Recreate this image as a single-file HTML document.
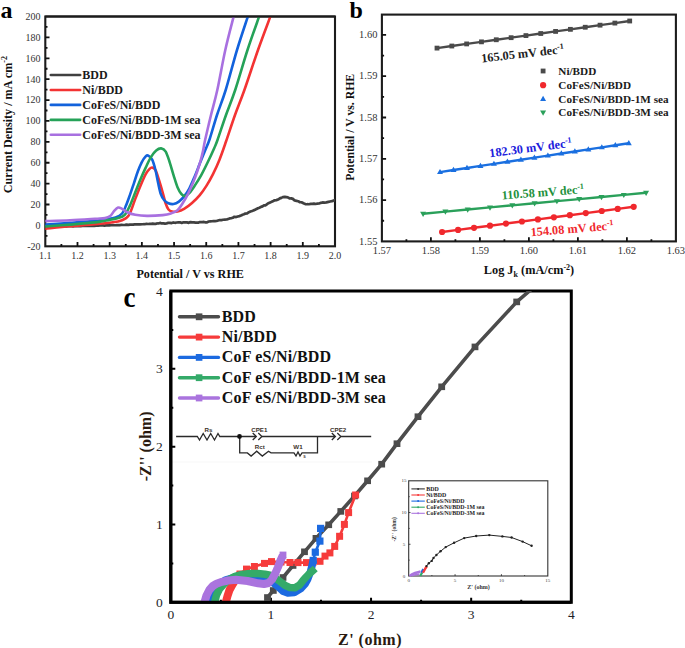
<!DOCTYPE html>
<html><head><meta charset="utf-8"><style>
html,body{margin:0;padding:0;background:#fff;overflow:hidden;width:685px;height:648px;}
svg{display:block;}
</style></head><body>
<svg width="685" height="648" viewBox="0 0 685 648">
<rect width="685" height="648" fill="#fff"/>
<text x="0.5" y="17.5" font-family="'Liberation Serif', serif" font-weight="bold" font-size="24" fill="#000">a</text>
<rect x="45.3" y="16.5" width="289.7" height="229.8" fill="none" stroke="#1c1c1c" stroke-width="2.1"/>
<path d="M61.39,246.3 v-2.2 M77.49,246.3 v-4.2 M93.58,246.3 v-2.2 M109.68,246.3 v-4.2 M125.77,246.3 v-2.2 M141.87,246.3 v-4.2 M157.96,246.3 v-2.2 M174.06,246.3 v-4.2 M190.15,246.3 v-2.2 M206.24,246.3 v-4.2 M222.34,246.3 v-2.2 M238.43,246.3 v-4.2 M254.53,246.3 v-2.2 M270.62,246.3 v-4.2 M286.72,246.3 v-2.2 M302.81,246.3 v-4.2 M318.91,246.3 v-2.2 M45.3,235.85 h2.2 M45.3,225.41 h4.2 M45.3,214.96 h2.2 M45.3,204.52 h4.2 M45.3,194.07 h2.2 M45.3,183.63 h4.2 M45.3,173.18 h2.2 M45.3,162.74 h4.2 M45.3,152.29 h2.2 M45.3,141.85 h4.2 M45.3,131.4 h2.2 M45.3,120.95 h4.2 M45.3,110.51 h2.2 M45.3,100.06 h4.2 M45.3,89.62 h2.2 M45.3,79.17 h4.2 M45.3,68.73 h2.2 M45.3,58.28 h4.2 M45.3,47.84 h2.2 M45.3,37.39 h4.2 M45.3,26.95 h2.2" stroke="#111" stroke-width="1.8" fill="none"/>
<g font-family="'Liberation Serif', serif" font-size="10" fill="#333"><text x="45.3" y="259.3" text-anchor="middle">1.1</text><text x="77.49" y="259.3" text-anchor="middle">1.2</text><text x="109.68" y="259.3" text-anchor="middle">1.3</text><text x="141.87" y="259.3" text-anchor="middle">1.4</text><text x="174.06" y="259.3" text-anchor="middle">1.5</text><text x="206.24" y="259.3" text-anchor="middle">1.6</text><text x="238.43" y="259.3" text-anchor="middle">1.7</text><text x="270.62" y="259.3" text-anchor="middle">1.8</text><text x="302.81" y="259.3" text-anchor="middle">1.9</text><text x="335" y="259.3" text-anchor="middle">2.0</text><text x="40.5" y="249.7" text-anchor="end">-20</text><text x="40.5" y="228.81" text-anchor="end">0</text><text x="40.5" y="207.92" text-anchor="end">20</text><text x="40.5" y="187.03" text-anchor="end">40</text><text x="40.5" y="166.14" text-anchor="end">60</text><text x="40.5" y="145.25" text-anchor="end">80</text><text x="40.5" y="124.35" text-anchor="end">100</text><text x="40.5" y="103.46" text-anchor="end">120</text><text x="40.5" y="82.57" text-anchor="end">140</text><text x="40.5" y="61.68" text-anchor="end">160</text><text x="40.5" y="40.79" text-anchor="end">180</text><text x="40.5" y="19.9" text-anchor="end">200</text></g>
<text x="190.2" y="278.2" text-anchor="middle" font-family="'Liberation Serif', serif" font-weight="bold" font-size="12.15" fill="#111">Potential / V vs RHE</text>
<text transform="translate(11.8,124.6) rotate(-90)" text-anchor="middle" font-family="'Liberation Serif', serif" font-weight="bold" font-size="12.15" fill="#111">Current Density / mA cm<tspan font-size="8" dy="-4.5">-2</tspan></text>
<line x1="50.8" y1="75" x2="80.2" y2="75" stroke="#404040" stroke-width="2.6" stroke-linecap="round"/>
<text x="82.3" y="79.2" font-family="'Liberation Serif', serif" font-weight="bold" font-size="12" fill="#1a1a1a">BDD</text>
<line x1="50.8" y1="89.95" x2="80.2" y2="89.95" stroke="#f33333" stroke-width="2.6" stroke-linecap="round"/>
<text x="82.3" y="94.15" font-family="'Liberation Serif', serif" font-weight="bold" font-size="12" fill="#1a1a1a">Ni/BDD</text>
<line x1="50.8" y1="104.9" x2="80.2" y2="104.9" stroke="#1262dc" stroke-width="2.6" stroke-linecap="round"/>
<text x="82.3" y="109.1" font-family="'Liberation Serif', serif" font-weight="bold" font-size="12" fill="#1a1a1a">CoFeS/Ni/BDD</text>
<line x1="50.8" y1="119.85" x2="80.2" y2="119.85" stroke="#25a258" stroke-width="2.6" stroke-linecap="round"/>
<text x="82.3" y="124.05" font-family="'Liberation Serif', serif" font-weight="bold" font-size="12" fill="#1a1a1a">CoFeS/Ni/BDD-1M sea</text>
<line x1="50.8" y1="134.8" x2="80.2" y2="134.8" stroke="#a870e0" stroke-width="2.6" stroke-linecap="round"/>
<text x="82.3" y="139" font-family="'Liberation Serif', serif" font-weight="bold" font-size="12" fill="#1a1a1a">CoFeS/Ni/BDD-3M sea</text>
<defs><clipPath id="ca"><rect x="45.3" y="16.5" width="289.7" height="229.8"/></clipPath></defs>
<g clip-path="url(#ca)" fill="none" stroke-linejoin="round" stroke-linecap="round">
<path d="M45.5,226.25 L46.41,226.19 L47.5,226.34 L48.74,226.17 L50.13,226.3 L51.65,226.25 L53.27,226.16 L54.99,226.29 L56.78,226.15 L58.63,226.26 L60.52,226.15 L62.43,226.14 L64.36,226.23 L66.27,226.34 L68.16,226.11 L70,226.12 L71.52,226.22 L73.04,226.29 L74.57,226.16 L76.1,226.08 L77.66,226.23 L79.22,225.93 L80.81,226.14 L82.41,225.94 L84.03,225.87 L85.68,225.83 L87.35,225.85 L89.06,225.97 L90.79,225.74 L92.56,225.81 L94.36,225.79 L96.2,225.66 L98.08,225.67 L100,225.47 L101.43,225.43 L102.92,225.43 L104.46,225.53 L106.05,225.41 L107.68,225.32 L109.34,225.36 L111.04,225.26 L112.76,225.17 L114.49,225.26 L116.24,225.18 L117.99,224.98 L119.75,225.03 L121.5,224.95 L123.24,225 L124.96,224.9 L126.66,224.71 L128.33,224.86 L129.97,224.55 L131.57,224.58 L133.12,224.63 L134.62,224.39 L136.07,224.44 L137.45,224.26 L138.76,224.4 L140,224.38 L142.37,224.23 L144.49,224.22 L146.41,223.96 L148.15,223.99 L149.75,223.87 L151.25,223.83 L152.68,223.63 L154.07,223.9 L155.47,223.92 L156.9,223.42 L158.4,223.52 L160,222.9 L161.67,223.42 L163.33,223.31 L165,223.56 L166.67,223.36 L168.33,222.82 L170,222.87 L171.67,223.07 L173.33,222.45 L175,222.8 L176.67,222.49 L178.33,222.4 L180,222.3 L181.69,222.9 L183.43,222.28 L185.19,222.35 L186.96,222.44 L188.74,222.83 L190.5,222.08 L192.23,222.37 L193.93,222.42 L195.56,222.68 L197.13,222.58 L198.61,222.58 L200,222 L202.11,222.05 L203.93,221.94 L205.56,222.35 L207.09,222.34 L208.61,221.52 L210.21,221.4 L212,221.26 L213.49,221.08 L215.01,221.12 L216.55,221.01 L218.13,220.49 L219.74,220.01 L221.4,220.1 L223.11,219.74 L224.88,219.56 L226.7,219.51 L228.13,218.94 L229.64,218.42 L231.2,218.12 L232.81,217.76 L234.45,216.77 L236.09,217.08 L237.74,216.51 L239.37,216.13 L240.96,215.58 L242.51,214.74 L243.99,214.28 L245.4,213.54 L247.17,213.4 L248.87,212.24 L250.5,211.59 L252.07,211.06 L253.59,210.35 L255.08,209.84 L256.53,208.92 L257.97,208.21 L259.4,207.69 L260.97,206.9 L262.49,206.39 L263.96,205.34 L265.39,205.36 L266.81,204.39 L268.23,203.25 L269.65,202.65 L271.1,202.06 L272.81,201.3 L274.58,200.28 L276.36,200.14 L278.11,199.52 L279.8,198.39 L281.38,197.86 L282.8,197.13 L284.77,196.85 L286.3,197.13 L287.83,197.42 L289.8,198.5 L291.25,198.37 L292.87,198.87 L294.61,200.43 L296.41,200.81 L298.2,201.21 L299.91,202.23 L301.5,202.27 L303.48,203.25 L305.28,204.05 L307.02,204.22 L308.82,204.23 L310.8,203.89 L312.36,203.93 L314,203.62 L315.71,203.98 L317.44,203.53 L319.17,203.48 L320.87,202.81 L322.5,202.45 L324.42,202.65 L326.42,202.42 L328.39,201.9 L330.21,201.47 L331.78,201.14 L333,200.82 L334.41,200.07 L334.5,200.32" stroke="#404040" stroke-width="2.7"/>
<path d="M45.5,228.7 C49.58,228.3 61.75,227.03 70,226.3 C78.25,225.57 86.98,225.12 95,224.3 C103.02,223.48 112.93,222.43 118.1,221.4 C123.27,220.37 124.03,219.42 126,218.1 C127.97,216.78 128.37,216.67 129.9,213.5 C131.43,210.33 133.45,203.7 135.2,199.1 C136.95,194.5 138.65,190.07 140.4,185.9 C142.15,181.73 144.17,176.93 145.7,174.1 C147.23,171.27 148.52,169.98 149.6,168.9 C150.68,167.82 151.22,167.38 152.2,167.6 C153.18,167.82 154.4,168.23 155.5,170.2 C156.6,172.17 157.6,175.68 158.8,179.4 C160,183.12 161.58,188.57 162.7,192.5 C163.82,196.43 164.53,200.17 165.5,203 C166.47,205.83 167.42,208.08 168.5,209.5 C169.58,210.92 170.5,211.17 172,211.5 C173.5,211.83 175.48,211.93 177.5,211.5 C179.52,211.07 181.68,210.32 184.1,208.9 C186.52,207.48 189.38,205.3 192,203 C194.62,200.7 197.4,197.95 199.8,195.1 C202.2,192.25 204.2,189.4 206.4,185.9 C208.6,182.4 210.82,178.47 213,174.1 C215.18,169.73 217.32,165.17 219.5,159.7 C221.68,154.23 223.52,148.75 226.1,141.3 C228.68,133.85 231.95,123.55 235,115 C238.05,106.45 240.57,100.83 244.4,90 C248.23,79.17 253.67,62.27 258,50 C262.33,37.73 268.33,22 270.4,16.4" stroke="#f33333" stroke-width="2.6"/>
<path d="M45.5,224.6 C49.58,224.3 61.75,223.43 70,222.8 C78.25,222.17 89.17,221.37 95,220.8 C100.83,220.23 101.58,219.97 105,219.4 C108.42,218.83 112.65,218.38 115.5,217.4 C118.35,216.42 120.35,215.47 122.1,213.5 C123.85,211.53 124.7,208.67 126,205.6 C127.3,202.53 128.58,198.82 129.9,195.1 C131.22,191.38 132.58,187.23 133.9,183.3 C135.22,179.37 136.5,175 137.8,171.5 C139.1,168 140.38,164.82 141.7,162.3 C143.02,159.78 144.6,157.52 145.7,156.4 C146.8,155.28 147.22,155.05 148.3,155.6 C149.38,156.15 151,157.27 152.2,159.7 C153.4,162.13 154.5,166.27 155.5,170.2 C156.5,174.13 157.32,179.33 158.2,183.3 C159.08,187.27 159.82,191.22 160.8,194 C161.78,196.78 162.83,198.47 164.1,200 C165.37,201.53 166.82,202.53 168.4,203.2 C169.98,203.87 171.85,204.27 173.6,204 C175.35,203.73 177.15,202.87 178.9,201.6 C180.65,200.33 182.37,198.58 184.1,196.4 C185.83,194.22 187.55,191.78 189.3,188.5 C191.05,185.22 192.85,180.85 194.6,176.7 C196.35,172.55 198.05,167.97 199.8,163.6 C201.55,159.23 203.45,154.6 205.1,150.5 C206.75,146.4 207.72,144.92 209.7,139 C211.68,133.08 214.33,123.17 217,115 C219.67,106.83 222.37,100.83 225.7,90 C229.03,79.17 233.3,62.27 237,50 C240.7,37.73 246.08,22 247.9,16.4" stroke="#1262dc" stroke-width="2.6"/>
<path d="M45.5,226.5 C49.58,226.18 61.75,225.28 70,224.6 C78.25,223.92 89.17,223.05 95,222.4 C100.83,221.75 101.15,221.42 105,220.7 C108.85,219.98 114.82,219.08 118.1,218.1 C121.38,217.12 122.73,216.88 124.7,214.8 C126.67,212.72 128.15,209.32 129.9,205.6 C131.65,201.88 133.45,196.87 135.2,192.5 C136.95,188.13 138.65,183.55 140.4,179.4 C142.15,175.25 143.95,171.32 145.7,167.6 C147.45,163.88 149.15,159.95 150.9,157.1 C152.65,154.25 154.48,151.95 156.2,150.5 C157.92,149.05 159.62,148.22 161.2,148.4 C162.78,148.58 164.28,149.28 165.7,151.6 C167.12,153.92 168.38,158.33 169.7,162.3 C171.02,166.27 172.3,171.25 173.6,175.4 C174.9,179.55 176.18,184.07 177.5,187.2 C178.82,190.33 180.28,192.72 181.5,194.2 C182.72,195.68 183.5,196.28 184.8,196.1 C186.1,195.92 187.67,194.8 189.3,193.1 C190.93,191.4 192.63,188.85 194.6,185.9 C196.57,182.95 198.92,179.33 201.1,175.4 C203.28,171.47 205.5,166.88 207.7,162.3 C209.9,157.72 212.67,151.62 214.3,147.9 C215.93,144.18 215.55,145.48 217.5,140 C219.45,134.52 223.05,123.33 226,115 C228.95,106.67 231.62,100.83 235.2,90 C238.78,79.17 243.5,62.27 247.5,50 C251.5,37.73 257.25,22 259.2,16.4" stroke="#25a258" stroke-width="2.6"/>
<path d="M45.5,221.1 C49.58,220.97 61.75,220.68 70,220.3 C78.25,219.92 89.17,219.17 95,218.8 C100.83,218.43 102.47,218.55 105,218.1 C107.53,217.65 108.67,217.3 110.2,216.1 C111.73,214.9 112.88,212.32 114.2,210.9 C115.52,209.48 116.78,207.93 118.1,207.6 C119.42,207.27 120.57,208.13 122.1,208.9 C123.63,209.67 125.12,211.22 127.3,212.2 C129.48,213.18 131.92,214.18 135.2,214.8 C138.48,215.42 142.42,215.85 147,215.9 C151.58,215.95 158.7,215.52 162.7,215.1 C166.7,214.68 168.53,214.22 171,213.4 C173.47,212.58 175.53,211.93 177.5,210.2 C179.47,208.47 181.05,205.73 182.8,203 C184.55,200.27 186.25,197.3 188,193.8 C189.75,190.3 191.77,185.72 193.3,182 C194.83,178.28 196,175 197.2,171.5 C198.4,168 199.52,164.5 200.5,161 C201.48,157.5 202.33,154 203.1,150.5 C203.87,147 203.78,145.92 205.1,140 C206.42,134.08 208.97,123.33 211,115 C213.03,106.67 214.92,100.83 217.3,90 C219.68,79.17 222.57,62.27 225.3,50 C228.03,37.73 232.3,22 233.7,16.4" stroke="#a870e0" stroke-width="2.6"/>
</g>
<line x1="45.3" y1="16.5" x2="335.0" y2="16.5" stroke="#1c1c1c" stroke-width="2.1"/>
<text x="349.5" y="18" font-family="'Liberation Serif', serif" font-weight="bold" font-size="24" fill="#000">b</text>
<rect x="381.9" y="14.6" width="294.0" height="226.8" fill="none" stroke="#1c1c1c" stroke-width="2.1"/>
<path d="M406.4,241.4 v-2.2 M430.9,241.4 v-4.2 M455.4,241.4 v-2.2 M479.9,241.4 v-4.2 M504.4,241.4 v-2.2 M528.9,241.4 v-4.2 M553.4,241.4 v-2.2 M577.9,241.4 v-4.2 M602.4,241.4 v-2.2 M626.9,241.4 v-4.2 M651.4,241.4 v-2.2 M381.9,220.75 h2.2 M381.9,200.1 h4.2 M381.9,179.45 h2.2 M381.9,158.8 h4.2 M381.9,138.15 h2.2 M381.9,117.5 h4.2 M381.9,96.85 h2.2 M381.9,76.2 h4.2 M381.9,55.55 h2.2 M381.9,34.9 h4.2" stroke="#111" stroke-width="1.8" fill="none"/>
<g font-family="'Liberation Serif', serif" font-size="10.5" fill="#333"><text x="381.9" y="254.2" text-anchor="middle">1.57</text><text x="430.9" y="254.2" text-anchor="middle">1.58</text><text x="479.9" y="254.2" text-anchor="middle">1.59</text><text x="528.9" y="254.2" text-anchor="middle">1.60</text><text x="577.9" y="254.2" text-anchor="middle">1.61</text><text x="626.9" y="254.2" text-anchor="middle">1.62</text><text x="675.9" y="254.2" text-anchor="middle">1.63</text><text x="377.4" y="244.5" text-anchor="end">1.55</text><text x="377.4" y="203.2" text-anchor="end">1.56</text><text x="377.4" y="161.9" text-anchor="end">1.57</text><text x="377.4" y="120.6" text-anchor="end">1.58</text><text x="377.4" y="79.3" text-anchor="end">1.59</text><text x="377.4" y="38" text-anchor="end">1.60</text></g>
<text transform="translate(354.2,127.3) rotate(-90)" text-anchor="middle" font-family="'Liberation Serif', serif" font-weight="bold" font-size="11.75" fill="#111">Potential / V vs. RHE</text>
<text x="529" y="274.2" text-anchor="middle" font-family="'Liberation Serif', serif" font-weight="bold" font-size="12.3" fill="#111">Log J<tspan font-size="8" dy="2.5">k</tspan><tspan dy="-2.5"> (mA/cm</tspan><tspan font-size="8" dy="-4.5">-2</tspan><tspan dy="4.5">)</tspan></text>
<path d="M437,48.1 L451.82,46.02 L466.65,43.93 L481.47,41.85 L496.29,39.76 L511.12,37.68 L525.94,35.59 L540.76,33.51 L555.58,31.42 L570.41,29.34 L585.23,27.25 L600.05,25.17 L614.88,23.08 L629.7,21" stroke="#4a4a4a" stroke-width="2.4" fill="none"/>
<rect x="434.6" y="45.7" width="4.8" height="4.8" fill="#4a4a4a"/><rect x="449.42" y="43.62" width="4.8" height="4.8" fill="#4a4a4a"/><rect x="464.25" y="41.53" width="4.8" height="4.8" fill="#4a4a4a"/><rect x="479.07" y="39.45" width="4.8" height="4.8" fill="#4a4a4a"/><rect x="493.89" y="37.36" width="4.8" height="4.8" fill="#4a4a4a"/><rect x="508.72" y="35.28" width="4.8" height="4.8" fill="#4a4a4a"/><rect x="523.54" y="33.19" width="4.8" height="4.8" fill="#4a4a4a"/><rect x="538.36" y="31.11" width="4.8" height="4.8" fill="#4a4a4a"/><rect x="553.18" y="29.02" width="4.8" height="4.8" fill="#4a4a4a"/><rect x="568.01" y="26.94" width="4.8" height="4.8" fill="#4a4a4a"/><rect x="582.83" y="24.85" width="4.8" height="4.8" fill="#4a4a4a"/><rect x="597.65" y="22.77" width="4.8" height="4.8" fill="#4a4a4a"/><rect x="612.48" y="20.68" width="4.8" height="4.8" fill="#4a4a4a"/><rect x="627.3" y="18.6" width="4.8" height="4.8" fill="#4a4a4a"/>
<path d="M440,172.1 L453.49,170.04 L466.97,167.97 L480.46,165.91 L493.94,163.84 L507.43,161.78 L520.91,159.71 L534.4,157.65 L547.89,155.59 L561.37,153.52 L574.86,151.46 L588.34,149.39 L601.83,147.33 L615.31,145.26 L628.8,143.2" stroke="#1a6fe0" stroke-width="2.4" fill="none"/>
<path d="M440,168.9 L443,174.1 L437,174.1Z" fill="#1a6fe0"/><path d="M453.49,166.84 L456.49,172.04 L450.49,172.04Z" fill="#1a6fe0"/><path d="M466.97,164.77 L469.97,169.97 L463.97,169.97Z" fill="#1a6fe0"/><path d="M480.46,162.71 L483.46,167.91 L477.46,167.91Z" fill="#1a6fe0"/><path d="M493.94,160.64 L496.94,165.84 L490.94,165.84Z" fill="#1a6fe0"/><path d="M507.43,158.58 L510.43,163.78 L504.43,163.78Z" fill="#1a6fe0"/><path d="M520.91,156.51 L523.91,161.71 L517.91,161.71Z" fill="#1a6fe0"/><path d="M534.4,154.45 L537.4,159.65 L531.4,159.65Z" fill="#1a6fe0"/><path d="M547.89,152.39 L550.89,157.59 L544.89,157.59Z" fill="#1a6fe0"/><path d="M561.37,150.32 L564.37,155.52 L558.37,155.52Z" fill="#1a6fe0"/><path d="M574.86,148.26 L577.86,153.46 L571.86,153.46Z" fill="#1a6fe0"/><path d="M588.34,146.19 L591.34,151.39 L585.34,151.39Z" fill="#1a6fe0"/><path d="M601.83,144.13 L604.83,149.33 L598.83,149.33Z" fill="#1a6fe0"/><path d="M615.31,142.06 L618.31,147.26 L612.31,147.26Z" fill="#1a6fe0"/><path d="M628.8,140 L631.8,145.2 L625.8,145.2Z" fill="#1a6fe0"/>
<path d="M423.1,213.7 L445.4,211.61 L467.7,209.52 L490,207.43 L512.3,205.34 L534.6,203.25 L556.9,201.16 L579.2,199.07 L601.5,196.98 L623.8,194.89 L646.1,192.8" stroke="#2aa05a" stroke-width="2.4" fill="none"/>
<path d="M423.1,216.9 L426.1,211.7 L420.1,211.7Z" fill="#2aa05a"/><path d="M445.4,214.81 L448.4,209.61 L442.4,209.61Z" fill="#2aa05a"/><path d="M467.7,212.72 L470.7,207.52 L464.7,207.52Z" fill="#2aa05a"/><path d="M490,210.63 L493,205.43 L487,205.43Z" fill="#2aa05a"/><path d="M512.3,208.54 L515.3,203.34 L509.3,203.34Z" fill="#2aa05a"/><path d="M534.6,206.45 L537.6,201.25 L531.6,201.25Z" fill="#2aa05a"/><path d="M556.9,204.36 L559.9,199.16 L553.9,199.16Z" fill="#2aa05a"/><path d="M579.2,202.27 L582.2,197.07 L576.2,197.07Z" fill="#2aa05a"/><path d="M601.5,200.18 L604.5,194.98 L598.5,194.98Z" fill="#2aa05a"/><path d="M623.8,198.09 L626.8,192.89 L620.8,192.89Z" fill="#2aa05a"/><path d="M646.1,196 L649.1,190.8 L643.1,190.8Z" fill="#2aa05a"/>
<path d="M442.1,232 L458.07,229.9 L474.03,227.8 L490,225.7 L505.97,223.6 L521.93,221.5 L537.9,219.4 L553.87,217.3 L569.83,215.2 L585.8,213.1 L601.77,211 L617.73,208.9 L633.7,206.8" stroke="#f0282d" stroke-width="2.4" fill="none"/>
<circle cx="442.1" cy="232" r="3.1" fill="#f0282d"/><circle cx="458.07" cy="229.9" r="3.1" fill="#f0282d"/><circle cx="474.03" cy="227.8" r="3.1" fill="#f0282d"/><circle cx="490" cy="225.7" r="3.1" fill="#f0282d"/><circle cx="505.97" cy="223.6" r="3.1" fill="#f0282d"/><circle cx="521.93" cy="221.5" r="3.1" fill="#f0282d"/><circle cx="537.9" cy="219.4" r="3.1" fill="#f0282d"/><circle cx="553.87" cy="217.3" r="3.1" fill="#f0282d"/><circle cx="569.83" cy="215.2" r="3.1" fill="#f0282d"/><circle cx="585.8" cy="213.1" r="3.1" fill="#f0282d"/><circle cx="601.77" cy="211" r="3.1" fill="#f0282d"/><circle cx="617.73" cy="208.9" r="3.1" fill="#f0282d"/><circle cx="633.7" cy="206.8" r="3.1" fill="#f0282d"/>
<rect x="540.7" y="68.6" width="4.8" height="4.8" fill="#4a4a4a"/>
<circle cx="543.1" cy="85.2" r="3.1" fill="#f0282d"/>
<path d="M543.1,95.8 L546.1,101.0 L540.1,101.0Z" fill="#1a6fe0"/>
<path d="M543.1,115.8 L546.1,110.6 L540.1,110.6Z" fill="#2aa05a"/>
<text x="558.3" y="74.8" font-family="'Liberation Serif', serif" font-weight="bold" font-size="11.2" fill="#1a1a1a">Ni/BDD</text>
<text x="558.3" y="89" font-family="'Liberation Serif', serif" font-weight="bold" font-size="11.2" fill="#1a1a1a">CoFeS/Ni/BDD</text>
<text x="558.3" y="102.8" font-family="'Liberation Serif', serif" font-weight="bold" font-size="11.2" fill="#1a1a1a">CoFeS/Ni/BDD-1M sea</text>
<text x="558.3" y="116.4" font-family="'Liberation Serif', serif" font-weight="bold" font-size="11.2" fill="#1a1a1a">CoFeS/Ni/BDD-3M sea</text>
<text transform="translate(481.7,62.5) rotate(-6.5)" font-family="'Liberation Serif', serif" font-weight="bold" font-size="12.3" fill="#222">165.05 mV dec<tspan font-size="8" dy="-4.5">-1</tspan></text>
<text transform="translate(489.8,157.3) rotate(-7.3)" font-family="'Liberation Serif', serif" font-weight="bold" font-size="12.3" fill="#2020dc">182.30 mV dec<tspan font-size="8" dy="-4.5">-1</tspan></text>
<text transform="translate(502.0,199.4) rotate(-4.3)" font-family="'Liberation Serif', serif" font-weight="bold" font-size="12.3" fill="#23913c">110.58 mV dec<tspan font-size="8" dy="-4.5">-1</tspan></text>
<text transform="translate(530.9,236.3) rotate(-4.7)" font-family="'Liberation Serif', serif" font-weight="bold" font-size="12.3" fill="#f0282d">154.08 mV dec<tspan font-size="8" dy="-4.5">-1</tspan></text>
<text x="123.6" y="306.6" font-family="'Liberation Serif', serif" font-weight="bold" font-size="27" fill="#000" transform="translate(123.6,306.6) scale(1,1.1) translate(-123.6,-306.6)">c</text>
<g stroke="#2a2a2a" stroke-width="1.3" fill="none">
<path d="M176.1,436.5 H197.3 L199.5,440 L203.2,433.5 L207,440 L210.7,433.5 L214.5,440 L218,433.5 L219.8,436.5 H256"/>
<path d="M252.7,433 L256.3,436.5 L252.7,440 M258.3,433 L261.9,436.5 L258.3,440"/>
<path d="M261.9,436.5 H335 M331.8,433 L335.4,436.5 L331.8,440 M337.3,433 L340.9,436.5 L337.3,440 M340.9,436.5 H371.2"/>
<path d="M239.7,436.5 V452.9 H247.4 L251.1,456.1 L256.7,451.2 L262.3,456.1 L268.5,451.2 L271,452.9 H294 L296,456 L298,452 L300,456 L302,452.9 H317.5 V436.5"/>
</g>
<circle cx="239.5" cy="436.5" r="2.4" fill="#111"/>
<g font-family="'Liberation Sans', sans-serif" font-size="6.2" font-weight="bold" fill="#3a3028" text-anchor="middle"><text x="208.5" y="432.3">Rs</text><text x="259.3" y="431.6">CPE1</text><text x="338.2" y="431.6">CPE2</text><text x="259.8" y="448.5">Rct</text><text x="298" y="448.8">W1</text><text x="304.5" y="458.3" font-size="4.5">s</text></g>
<line x1="172" y1="462" x2="372" y2="462" stroke="#f7f7f7" stroke-width="1"/>
<rect x="170.8" y="291.0" width="400.49999999999994" height="311.29999999999995" fill="none" stroke="#000" stroke-width="3"/>
<path d="M270.93,602.3 v-4.5 M170.8,524.47 h4.5 M371.05,602.3 v-4.5 M170.8,446.65 h4.5 M471.17,602.3 v-4.5 M170.8,368.82 h4.5 M220.86,602.3 v-2.5 M170.8,563.39 h2.5 M320.99,602.3 v-2.5 M170.8,485.56 h2.5 M421.11,602.3 v-2.5 M170.8,407.74 h2.5 M521.24,602.3 v-2.5 M170.8,329.91 h2.5" stroke="#000" stroke-width="2" fill="none"/>
<g font-family="'Liberation Serif', serif" font-size="13.5" fill="#1e1e28"><text x="170.8" y="618.8" text-anchor="middle">0</text><text x="159.3" y="606.9" text-anchor="middle">0</text><text x="270.93" y="618.8" text-anchor="middle">1</text><text x="159.3" y="529.07" text-anchor="middle">1</text><text x="371.05" y="618.8" text-anchor="middle">2</text><text x="159.3" y="451.25" text-anchor="middle">2</text><text x="471.17" y="618.8" text-anchor="middle">3</text><text x="159.3" y="373.43" text-anchor="middle">3</text><text x="571.3" y="618.8" text-anchor="middle">4</text><text x="159.3" y="295.6" text-anchor="middle">4</text></g>
<text x="370" y="644.6" text-anchor="middle" font-family="'Liberation Serif', serif" font-weight="bold" font-size="16" letter-spacing="0.5" fill="#2a1a10">Z' (ohm)</text>
<text transform="translate(151,446.4) rotate(-90)" text-anchor="middle" font-family="'Liberation Serif', serif" font-weight="bold" font-size="16" letter-spacing="0" fill="#2a1a10">-Z'' (ohm)</text>
<line x1="179.5" y1="316.8" x2="218.5" y2="316.8" stroke="#4c4c4c" stroke-width="3.4" stroke-linecap="round"/>
<rect x="195.8" y="313.4" width="6.6" height="6.8" fill="#4c4c4c"/>
<text x="221.8" y="321.8" font-family="'Liberation Serif', serif" font-weight="bold" font-size="16" letter-spacing="0.15" fill="#111">BDD</text>
<line x1="179.5" y1="337.1" x2="218.5" y2="337.1" stroke="#f63b3b" stroke-width="3.4" stroke-linecap="round"/>
<rect x="195.8" y="333.7" width="6.6" height="6.8" fill="#f63b3b"/>
<text x="221.8" y="342.1" font-family="'Liberation Serif', serif" font-weight="bold" font-size="16" letter-spacing="0.15" fill="#111">Ni/BDD</text>
<line x1="179.5" y1="357.4" x2="218.5" y2="357.4" stroke="#1c6ae0" stroke-width="3.4" stroke-linecap="round"/>
<rect x="195.8" y="354" width="6.6" height="6.8" fill="#1c6ae0"/>
<text x="221.8" y="362.4" font-family="'Liberation Serif', serif" font-weight="bold" font-size="16" letter-spacing="0.15" fill="#111">CoF eS/Ni/BDD</text>
<line x1="179.5" y1="377.7" x2="218.5" y2="377.7" stroke="#34aa69" stroke-width="3.4" stroke-linecap="round"/>
<rect x="195.8" y="374.3" width="6.6" height="6.8" fill="#34aa69"/>
<text x="221.8" y="382.7" font-family="'Liberation Serif', serif" font-weight="bold" font-size="16" letter-spacing="0.15" fill="#111">CoF eS/Ni/BDD-1M sea</text>
<line x1="179.5" y1="398" x2="218.5" y2="398" stroke="#aa74de" stroke-width="3.4" stroke-linecap="round"/>
<rect x="195.8" y="394.6" width="6.6" height="6.8" fill="#aa74de"/>
<text x="221.8" y="403" font-family="'Liberation Serif', serif" font-weight="bold" font-size="16" letter-spacing="0.15" fill="#111">CoF eS/Ni/BDD-3M sea</text>
<rect x="408.7" y="480.8" width="139.09999999999997" height="95.19999999999999" fill="none" stroke="#333" stroke-width="1.1"/>
<path d="M455.07,576.0 v-1.8 M408.7,544.27 h1.8 M501.43,576.0 v-1.8 M408.7,512.53 h1.8 M431.88,576.0 v-1 M408.7,560.13 h1 M478.25,576.0 v-1 M408.7,528.4 h1 M524.62,576.0 v-1 M408.7,496.67 h1" stroke="#333" stroke-width="0.9" fill="none"/>
<g font-family="'Liberation Serif', serif" font-size="5" fill="#444"><text x="408.7" y="582" text-anchor="middle">0</text><text x="404" y="577.6" text-anchor="middle">0</text><text x="455.07" y="582" text-anchor="middle">5</text><text x="404" y="545.87" text-anchor="middle">5</text><text x="501.43" y="582" text-anchor="middle">10</text><text x="404" y="514.13" text-anchor="middle">10</text><text x="547.8" y="582" text-anchor="middle">15</text><text x="404" y="482.4" text-anchor="middle">15</text></g>
<text x="478.5" y="589" text-anchor="middle" font-family="'Liberation Serif', serif" font-weight="bold" font-size="6" fill="#333">Z' (ohm)</text>
<text transform="translate(396.3,529.3) rotate(-90)" text-anchor="middle" font-family="'Liberation Serif', serif" font-weight="bold" font-size="5.6" fill="#333">-Z'' (ohm)</text>
<line x1="411.4" y1="488.9" x2="424.8" y2="488.9" stroke="#333" stroke-width="1.1"/>
<circle cx="418.1" cy="488.9" r="1" fill="#333"/>
<text x="426.3" y="490.9" font-family="'Liberation Serif', serif" font-weight="bold" font-size="5.9" fill="#222">BDD</text>
<line x1="411.4" y1="495" x2="424.8" y2="495" stroke="#f63b3b" stroke-width="1.1"/>
<circle cx="418.1" cy="495" r="1" fill="#f63b3b"/>
<text x="426.3" y="497" font-family="'Liberation Serif', serif" font-weight="bold" font-size="5.9" fill="#222">Ni/BDD</text>
<line x1="411.4" y1="501.1" x2="424.8" y2="501.1" stroke="#1c6ae0" stroke-width="1.1"/>
<circle cx="418.1" cy="501.1" r="1" fill="#1c6ae0"/>
<text x="426.3" y="503.1" font-family="'Liberation Serif', serif" font-weight="bold" font-size="5.9" fill="#222">CoFeS/Ni/BDD</text>
<line x1="411.4" y1="507.2" x2="424.8" y2="507.2" stroke="#34aa69" stroke-width="1.1"/>
<circle cx="418.1" cy="507.2" r="1" fill="#34aa69"/>
<text x="426.3" y="509.2" font-family="'Liberation Serif', serif" font-weight="bold" font-size="5.9" fill="#222">CoFeS/Ni/BDD-1M sea</text>
<line x1="411.4" y1="513.3" x2="424.8" y2="513.3" stroke="#aa74de" stroke-width="1.1"/>
<circle cx="418.1" cy="513.3" r="1" fill="#aa74de"/>
<text x="426.3" y="515.3" font-family="'Liberation Serif', serif" font-weight="bold" font-size="5.9" fill="#222">CoFeS/Ni/BDD-3M sea</text>
<path d="M409.5,576 L412,574.3 L415,573 L418,572.2 L420.5,571.6" stroke="#aa74de" stroke-width="2.6" fill="none"/>
<path d="M412,575.8 L416,574.6 L419.5,574" stroke="#aa74de" stroke-width="1.6" fill="none"/>
<path d="M420.3,576 L421.5,573.5 L422.3,572.5" stroke="#34aa69" stroke-width="2.2" fill="none"/>
<path d="M421.5,572.5 L422.5,570.5 L423.3,569" stroke="#1c6ae0" stroke-width="2.2" fill="none"/>
<path d="M423,572.8 L424.5,570 L425.5,568.2 L426.8,566.3" stroke="#f63b3b" stroke-width="2.4" fill="none"/>
<path d="M426.5,566.1 L428.8,563.2 L431.7,560.9 L433.5,558 L436.4,555 L440.5,551.3 L445.7,547.1 L454.1,542.8 L464.2,538.1 L476.2,536 L489.3,535.1 L502.4,536.4 L511.6,537.5 L522.6,541.6 L531.6,545.8" stroke="#222" stroke-width="1" fill="none"/>
<circle cx="426.5" cy="566.1" r="1.2" fill="#222"/><circle cx="428.8" cy="563.2" r="1.2" fill="#222"/><circle cx="431.7" cy="560.9" r="1.2" fill="#222"/><circle cx="433.5" cy="558" r="1.2" fill="#222"/><circle cx="436.4" cy="555" r="1.2" fill="#222"/><circle cx="440.5" cy="551.3" r="1.2" fill="#222"/><circle cx="445.7" cy="547.1" r="1.2" fill="#222"/><circle cx="454.1" cy="542.8" r="1.2" fill="#222"/><circle cx="464.2" cy="538.1" r="1.2" fill="#222"/><circle cx="476.2" cy="536" r="1.2" fill="#222"/><circle cx="489.3" cy="535.1" r="1.2" fill="#222"/><circle cx="502.4" cy="536.4" r="1.2" fill="#222"/><circle cx="511.6" cy="537.5" r="1.2" fill="#222"/><circle cx="522.6" cy="541.6" r="1.2" fill="#222"/><circle cx="531.6" cy="545.8" r="1.2" fill="#222"/>
<defs><clipPath id="cc"><rect x="170.8" y="291.0" width="400.49999999999994" height="311.29999999999995"/></clipPath></defs>
<g clip-path="url(#cc)">
<path d="M267.5,597.5 L273.3,590.5 L283,577.5 L293,565.5 L304.5,551.8 L316,538.3 L328.7,524.8 L340.8,511.4 L354.5,496 L367.6,480.8 L381.7,464.2 L397,443.7 L418,416.7 L441.7,386.8 L475,346.9 L516.7,301.9 L531.7,289" stroke="#4c4c4c" stroke-width="3.6" fill="none" stroke-linejoin="round"/>
<rect x="264.1" y="594.2" width="6.8" height="6.6" fill="#4c4c4c"/><rect x="269.9" y="587.2" width="6.8" height="6.6" fill="#4c4c4c"/><rect x="279.6" y="574.2" width="6.8" height="6.6" fill="#4c4c4c"/><rect x="289.6" y="562.2" width="6.8" height="6.6" fill="#4c4c4c"/><rect x="301.1" y="548.5" width="6.8" height="6.6" fill="#4c4c4c"/><rect x="312.6" y="535" width="6.8" height="6.6" fill="#4c4c4c"/><rect x="325.3" y="521.5" width="6.8" height="6.6" fill="#4c4c4c"/><rect x="337.4" y="508.1" width="6.8" height="6.6" fill="#4c4c4c"/><rect x="351.1" y="492.7" width="6.8" height="6.6" fill="#4c4c4c"/><rect x="364.2" y="477.5" width="6.8" height="6.6" fill="#4c4c4c"/><rect x="378.3" y="460.9" width="6.8" height="6.6" fill="#4c4c4c"/><rect x="393.6" y="440.4" width="6.8" height="6.6" fill="#4c4c4c"/><rect x="414.6" y="413.4" width="6.8" height="6.6" fill="#4c4c4c"/><rect x="438.3" y="383.5" width="6.8" height="6.6" fill="#4c4c4c"/><rect x="471.6" y="343.6" width="6.8" height="6.6" fill="#4c4c4c"/><rect x="513.3" y="298.6" width="6.8" height="6.6" fill="#4c4c4c"/>
<path d="M225.6,603 L227.5,596 L229.5,590 L232.5,584.5 L236,579 L240,574" stroke="#f63b3b" stroke-width="8" fill="none" stroke-linejoin="round"/>
<path d="M240,574 L246.5,569.1 L254.4,566.5 L264.5,563.4 L271.5,561.6 L281,562 L290,562.5 L298,562.6 L306.5,562.6 L313,562.2 L320,561.3 L325,556.1 L329.9,552.9 L334.7,546.4 L339.6,536.3 L344.4,524.4 L348.6,512.6 L355.6,495" stroke="#f63b3b" stroke-width="2.6" fill="none" stroke-linejoin="round"/>
<rect x="236.5" y="570.5" width="7" height="7" fill="#f63b3b"/><rect x="243" y="565.6" width="7" height="7" fill="#f63b3b"/><rect x="250.9" y="563" width="7" height="7" fill="#f63b3b"/><rect x="261" y="559.9" width="7" height="7" fill="#f63b3b"/><rect x="268" y="558.1" width="7" height="7" fill="#f63b3b"/><rect x="277.5" y="558.5" width="7" height="7" fill="#f63b3b"/><rect x="286.5" y="559" width="7" height="7" fill="#f63b3b"/><rect x="294.5" y="559.1" width="7" height="7" fill="#f63b3b"/><rect x="303" y="559.1" width="7" height="7" fill="#f63b3b"/><rect x="309.5" y="558.7" width="7" height="7" fill="#f63b3b"/><rect x="316.5" y="557.8" width="7" height="7" fill="#f63b3b"/><rect x="321.5" y="552.6" width="7" height="7" fill="#f63b3b"/><rect x="326.4" y="549.4" width="7" height="7" fill="#f63b3b"/><rect x="331.2" y="542.9" width="7" height="7" fill="#f63b3b"/><rect x="336.1" y="532.8" width="7" height="7" fill="#f63b3b"/><rect x="340.9" y="520.9" width="7" height="7" fill="#f63b3b"/><rect x="345.1" y="509.1" width="7" height="7" fill="#f63b3b"/><rect x="352.1" y="491.5" width="7" height="7" fill="#f63b3b"/>
<path d="M211.5,603 L213,595 L216,588.5 L220,583.5 L226,579.8 L233,578 L242,577.5 L250,578 L258,578.8 L265,579.8 L270,581.3 L274.2,583.5 L278.5,587 L283,591.2 L287.8,593 L294.3,592.5 L300.9,588.6 L305,584 L307.5,579.7 L310.4,572 L312.2,565 L313.2,560.6" stroke="#1c6ae0" stroke-width="7.5" fill="none" stroke-linejoin="round"/>
<path d="M313.2,560.6 L315.3,552.2 L319.9,541.1 L320.6,528.4" stroke="#1c6ae0" stroke-width="2.6" fill="none"/>
<rect x="317" y="524.8" width="7.2" height="7.2" fill="#1c6ae0"/><rect x="316.3" y="537.5" width="7.2" height="7.2" fill="#1c6ae0"/><rect x="311.7" y="548.6" width="7.2" height="7.2" fill="#1c6ae0"/><rect x="309.6" y="556.8" width="7.2" height="7.2" fill="#1c6ae0"/>
<path d="M214.5,603 L216.5,595 L219.5,589 L224,584 L229,579.5 L235,576.3 L242,574.5 L250,573.6 L258,573.6 L265,574.2 L270,575.2 L275,577.8 L280,581.6 L285.2,585.5 L290,587.6 L295,587.8 L299.6,585 L303,580.5 L306.1,577 L308.5,574.5 L311.4,571.8 L315.3,568.5" stroke="#34aa69" stroke-width="7.5" fill="none" stroke-linejoin="round"/>
<path d="M204.3,603 L206.5,595.5 L209.3,590 L212.8,586 L216.5,583.8 L222,581.8 L228,580.5 L236,579.8 L247.6,581 L258,583.3 L264,584 L268.5,583 L272,579.5 L275.2,573.5 L277.8,567.5 L280.3,561 L282.8,555.5" stroke="#aa74de" stroke-width="8" fill="none" stroke-linejoin="round"/>
<rect x="279.6" y="551.6" width="6.8" height="6.8" fill="#aa74de"/>
</g>
<path d="M170.8,291.0 V602.3 H571.3" stroke="#000" stroke-width="3" fill="none"/>
</svg>
</body></html>
